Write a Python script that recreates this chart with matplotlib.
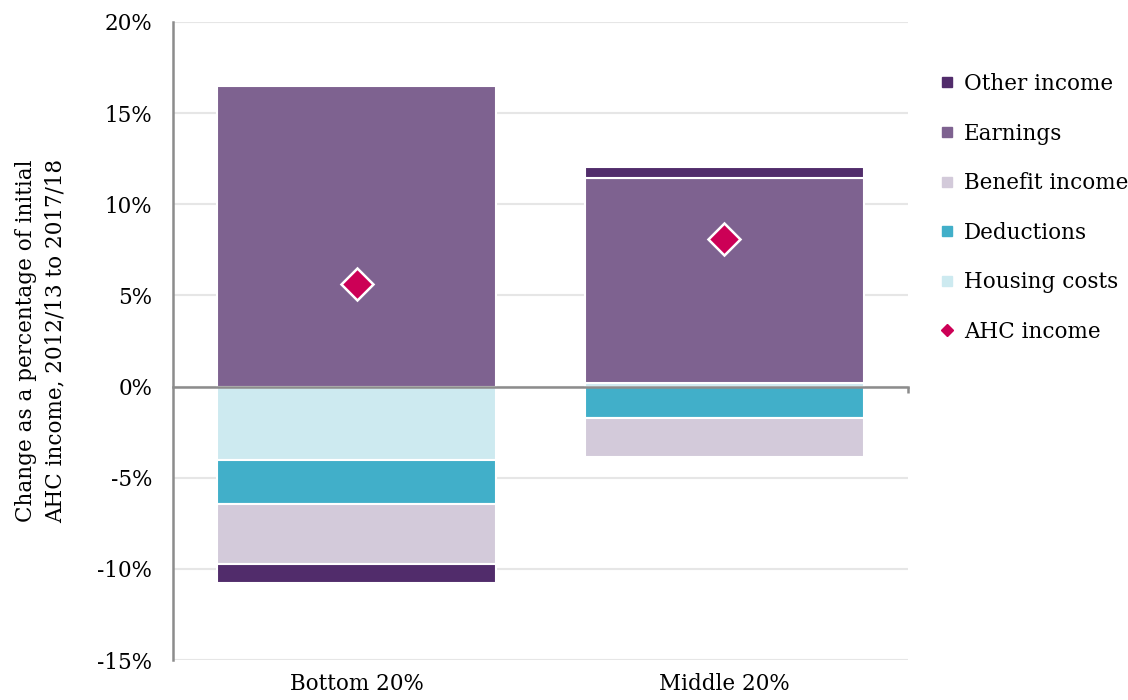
import numpy as np
import matplotlib.pyplot as plt
from matplotlib.lines import Line2D

plt.rcParams['font.family'] = ['DejaVu Serif']

# data (percentage points of initial AHC income)
groups = ['Bottom 20%', 'Middle 20%']
housing_costs = [-4.05, 0.18]
deductions = [-2.37, -1.70]
benefit_income = [-3.29, -2.18]
earnings = [16.47, 11.27]
other_income = [-1.09, 0.60]
ahc_income = [5.60, 8.11]

series_names = ['Housing costs', 'Deductions', 'Benefit income', 'Earnings', 'Other income']
series_vals = [housing_costs, deductions, benefit_income, earnings, other_income]
colors = {'Other income': '#512c6b',
          'Earnings': '#7e6290',
          'Benefit income': '#d3cada',
          'Deductions': '#41afc9',
          'Housing costs': '#cdeaf0'}
diamond_col = '#cc0056'
FS = 15.5

fig = plt.figure(figsize=(11.28, 7), dpi=100)
ax = fig.add_axes([0.1534, 0.0571, 0.6516, 0.9115])

x = np.arange(len(groups))
pos_base = np.zeros(len(groups))
neg_base = np.zeros(len(groups))
for name, vals in zip(series_names, series_vals):
    vals = np.array(vals)
    bottoms = np.where(vals >= 0, pos_base, neg_base)
    ax.bar(x, vals, 0.76, bottom=bottoms, color=colors[name],
           edgecolor='white', linewidth=1.5, zorder=2)
    pos_base = pos_base + np.where(vals >= 0, vals, 0)
    neg_base = neg_base + np.where(vals < 0, vals, 0)

ax.plot(x, ahc_income, linestyle='None', marker='D', markersize=16,
        color=diamond_col, markeredgecolor='white', markeredgewidth=1.8, zorder=4)

ax.set_xlim(-0.5, 1.5)
ax.set_ylim(-15, 20)
ax.set_yticks(np.arange(-15, 21, 5))
ax.set_yticklabels(['%d%%' % v for v in np.arange(-15, 21, 5)])
ax.yaxis.set_tick_params(length=0, pad=15, labelsize=FS)
ax.yaxis.grid(True, color='#e6e6e6', linewidth=1.5)
ax.set_axisbelow(True)

for s in ['top', 'right']:
    ax.spines[s].set_visible(False)
ax.spines['left'].set_color('#8c8c8c')
ax.spines['left'].set_linewidth(1.8)
ax.spines['bottom'].set_position(('data', 0))
ax.spines['bottom'].set_color('#8c8c8c')
ax.spines['bottom'].set_linewidth(1.8)
ax.spines['bottom'].set_zorder(3)
ax.set_xticks([0, 1, 1.5])
ax.set_xticklabels([])
ax.xaxis.set_tick_params(length=4, width=1.8, color='#8c8c8c')

for i, g in enumerate(groups):
    ax.annotate(g, xy=(i, 0), xycoords=('data', 'axes fraction'),
                xytext=(0, -9), textcoords='offset points',
                ha='center', va='top', fontsize=FS)

ax.set_ylabel('Change as a percentage of initial\nAHC income, 2012/13 to 2017/18',
              fontsize=FS, labelpad=22, linespacing=1.45)

legend_order = ['Other income', 'Earnings', 'Benefit income', 'Deductions', 'Housing costs']
handles = [Line2D([], [], linestyle='None', marker='s', markersize=7,
                  color=colors[n]) for n in legend_order]
handles.append(Line2D([], [], linestyle='None', marker='D', markersize=6,
                      color=diamond_col))
labels = legend_order + ['AHC income']
fig.legend(handles, labels, loc='upper left', bbox_to_anchor=(0.826, 0.908),
           frameon=False, fontsize=FS, handlelength=0.6, handletextpad=0.5,
           labelspacing=1.28, borderaxespad=0)

fig.savefig('out.png', dpi=100)
